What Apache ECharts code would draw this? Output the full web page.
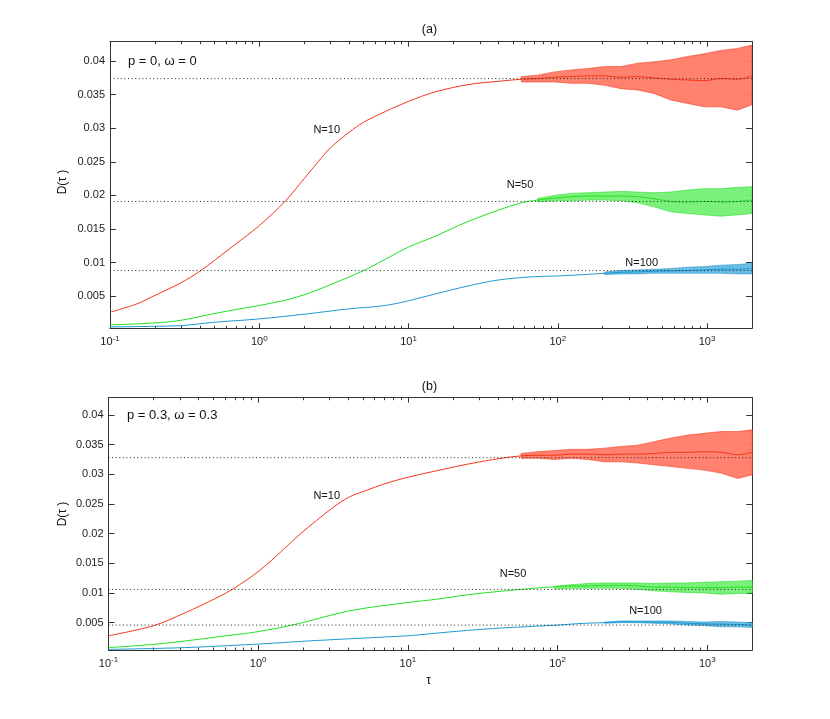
<!DOCTYPE html>
<html><head><meta charset="utf-8">
<script src="https://cdn.jsdelivr.net/npm/echarts@6/dist/echarts.min.js"></script>
<style>html,body{margin:0;padding:0;background:#fff}#c{width:830px;height:719px}</style>
</head><body><div id="c"></div>
<script>
// ---- axis ticks ----
const tauTicks = [0.1, 1, 10, 100, 1000];
const tauMinor = [0.2,0.3,0.4,0.5,0.6,0.7,0.8,0.9, 2,3,4,5,6,7,8,9, 20,30,40,50,60,70,80,90, 200,300,400,500,600,700,800,900];
const yTicks = [0.005, 0.01, 0.015, 0.02, 0.025, 0.03, 0.035, 0.04];

// ---- panel (a): p = 0, omega = 0 ----
const a_N10_tau = [0.1,0.15,0.2,0.3,0.4,0.5,0.7,1,1.5,2,2.5,3,4,5,7,10,15,25,40,57,73,95,123,159,206,266,343,441,571,740,955,1235,1597,2000];
const a_N10_D   = [0.0026,0.0038,0.0051,0.0070,0.0087,0.0103,0.0128,0.0155,0.0192,0.0225,0.0251,0.0271,0.0294,0.0309,0.0325,0.0340,0.0354,0.0365,0.0370,0.0373,0.0374,0.0376,0.0377,0.0378,0.0378,0.0376,0.0377,0.0375,0.0373,0.0372,0.0371,0.0374,0.0373,0.0378];
const a_N10_bandTau = [57,73,95,123,159,206,266,343,441,571,740,955,1235,1597,2000];
const a_N10_hi = [0.0377,0.0379,0.0384,0.0387,0.0389,0.0392,0.0392,0.0397,0.0399,0.0402,0.0407,0.0411,0.0416,0.0419,0.0424];
const a_N10_lo = [0.0369,0.0369,0.0369,0.0367,0.0367,0.0364,0.0359,0.0357,0.0352,0.0342,0.0337,0.0332,0.0332,0.0327,0.0335];

const a_N50_tau = [0.1,0.2,0.3,0.5,0.7,1,1.5,2,3,5,7,10,15,25,40,57,73,95,123,159,206,266,343,441,571,740,955,1235,1597,2000];
const a_N50_D   = [0.0007,0.0010,0.0014,0.0024,0.0030,0.0036,0.0044,0.0052,0.0067,0.0088,0.0105,0.0123,0.0139,0.0161,0.0178,0.0189,0.0193,0.0196,0.0198,0.0199,0.0199,0.0199,0.0198,0.0195,0.0191,0.0190,0.0191,0.0190,0.0191,0.0193];
const a_N50_bandTau = [73,95,123,159,206,266,343,441,571,740,955,1235,1597,2000];
const a_N50_hi = [0.01955,0.0200,0.0203,0.0204,0.0205,0.0206,0.0205,0.0204,0.0205,0.0208,0.0210,0.0210,0.0212,0.0213];
const a_N50_lo = [0.01905,0.0192,0.0192,0.0193,0.0193,0.0192,0.0189,0.0183,0.01756,0.0173,0.0171,0.0169,0.0171,0.0173];

const a_N100_tau = [0.1,0.2,0.3,0.5,1,2,4,7,10,15,25,40,70,100,150,206,266,343,441,571,740,955,1235,1597,2000];
const a_N100_D   = [0.0004,0.0005,0.0006,0.0011,0.0016,0.0023,0.0031,0.0036,0.0043,0.0053,0.0065,0.0074,0.0079,0.0080,0.0082,0.0084,0.00855,0.0086,0.0087,0.00875,0.0088,0.0089,0.0090,0.0090,0.0091];
const a_N100_bandTau = [206,266,343,441,571,740,955,1235,1597,2000];
const a_N100_hi = [0.0086,0.0088,0.0089,0.0090,0.0091,0.0093,0.0094,0.0096,0.0097,0.0099];
const a_N100_lo = [0.0082,0.0083,0.0083,0.0084,0.0084,0.0084,0.0084,0.0084,0.0083,0.0083];

const a_ref = [0.0374, 0.0191, 0.0088];

// ---- panel (b): p = 0.3, omega = 0.3 ----
const b_N10_tau = [0.1,0.2,0.32,0.53,0.68,1,1.47,1.9,2.45,3.16,4.08,5.3,6.8,10,15,25,42,57,73,95,123,159,206,266,343,441,571,740,955,1235,1597,2000];
const b_N10_D   = [0.0028,0.0045,0.0066,0.0092,0.0107,0.0136,0.0173,0.0199,0.0222,0.0244,0.0262,0.0273,0.0283,0.0295,0.0305,0.0317,0.0327,0.0331,0.0332,0.0332,0.0334,0.0334,0.0333,0.0334,0.0334,0.0335,0.0337,0.0337,0.0338,0.0337,0.0333,0.0337];
const b_N10_bandTau = [57,73,95,123,159,206,266,343,441,571,740,955,1235,1597,2000];
const b_N10_hi = [0.0335,0.0338,0.0340,0.0342,0.0342,0.0344,0.0347,0.0349,0.0355,0.0361,0.0366,0.0369,0.0372,0.0372,0.0375];
const b_N10_lo = [0.0327,0.0327,0.0325,0.0327,0.0325,0.0321,0.0321,0.0319,0.0316,0.0313,0.0310,0.0307,0.0302,0.0293,0.0299];

const b_N50_tau = [0.1,0.19,0.32,0.53,1,1.9,4.08,10,15,25,42,70,100,123,159,206,266,343,441,571,740,955,1235,1597,2000];
const b_N50_D   = [0.0008,0.0013,0.0019,0.0026,0.0035,0.0049,0.0070,0.0084,0.0089,0.0097,0.0103,0.0108,0.0111,0.0112,0.0112,0.0113,0.0113,0.0112,0.0110,0.0110,0.0109,0.0109,0.0109,0.0110,0.0110];
const b_N50_bandTau = [95,123,159,206,266,343,441,571,740,955,1235,1597,2000];
const b_N50_hi = [0.0111,0.0114,0.0116,0.0117,0.0117,0.0117,0.0116,0.0117,0.0117,0.0118,0.0119,0.0120,0.0121];
const b_N50_lo = [0.0107,0.0108,0.0108,0.0108,0.0108,0.0106,0.0104,0.0102,0.0101,0.0100,0.0098,0.0099,0.0100];

const b_N100_tau = [0.1,0.32,1,2.45,10,15,25,42,70,100,150,206,266,343,441,571,740,955,1235,1597,2000];
const b_N100_D   = [0.0005,0.0008,0.0014,0.0020,0.0028,0.0032,0.0037,0.0041,0.0044,0.0046,0.0049,0.0050,0.00515,0.0051,0.0051,0.00505,0.0049,0.0048,0.00475,0.0047,0.0046];
const b_N100_bandTau = [206,266,343,441,571,740,955,1235,1597,2000];
const b_N100_hi = [0.0051,0.0053,0.0053,0.0053,0.0053,0.0052,0.0051,0.0052,0.0051,0.0050];
const b_N100_lo = [0.0049,0.0050,0.0050,0.0049,0.0048,0.0046,0.0045,0.0043,0.0043,0.0042];

const b_ref = [0.0328, 0.0106, 0.0046];

const tauRange = [0.1, 2000];

// ---- styling ----
const FONT = 'Liberation Sans, Arial, Helvetica, sans-serif';
const AX = '#333';
const COL = {
  red:   {line:'#f4371d', fill:'#ff7a66'},
  green: {line:'#22e022', fill:'#74f074'},
  blue:  {line:'#1c98d4', fill:'#63b9e3'}
};

function xAxes(g) {
  const base = {type:'log', logBase:10, min:tauRange[0], max:tauRange[1], gridIndex:g, splitLine:{show:false}};
  const line = {show:true, onZero:false, lineStyle:{color:AX, width:1}};
  return [
    Object.assign({}, base, {position:'bottom', axisLine:line,
      axisTick:{show:true, inside:true, length:5, customValues:tauTicks, lineStyle:{color:AX}},
      axisLabel:{show:true, customValues:tauTicks, margin:6,
        formatter: v => '{b|10}{s|' + Math.round(Math.log10(v)) + '}',
        rich:{b:{fontSize:11, fontFamily:FONT, color:'#222', lineHeight:16},
              s:{fontSize:8, fontFamily:FONT, color:'#222', lineHeight:9, verticalAlign:'top'}}}}),
    Object.assign({}, base, {position:'top', axisLine:line,
      axisTick:{show:true, inside:true, length:5, customValues:tauTicks, lineStyle:{color:AX}},
      axisLabel:{show:false}}),
    // requested 'top' -> flips to free bottom side
    Object.assign({}, base, {position:'top', axisLine:{show:false},
      axisTick:{show:true, inside:true, length:2.5, customValues:tauMinor, lineStyle:{color:AX}},
      axisLabel:{show:false}}),
    // requested 'bottom' -> flips to top side
    Object.assign({}, base, {position:'bottom', axisLine:{show:false},
      axisTick:{show:true, inside:true, length:2.5, customValues:tauMinor, lineStyle:{color:AX}},
      axisLabel:{show:false}})
  ];
}
function yAxes(g, min, max) {
  const line = {show:true, onZero:false, lineStyle:{color:AX, width:1}};
  return [
    {type:'value', gridIndex:g, min, max, position:'left', axisLine:line, splitLine:{show:false},
     axisTick:{show:true, inside:true, length:6, customValues:yTicks, lineStyle:{color:AX}},
     axisLabel:{customValues:yTicks, margin:5, fontSize:11, fontFamily:FONT, color:'#222',
       formatter: v => String(Number(v.toPrecision(4)))}},
    {type:'value', gridIndex:g, min, max, position:'right', axisLine:line, splitLine:{show:false},
     axisTick:{show:true, inside:true, length:6, customValues:yTicks, lineStyle:{color:AX}},
     axisLabel:{show:false}}
  ];
}

function curve(tau, D, xi, yi, c) {
  return {type:'line', xAxisIndex:xi, yAxisIndex:yi, data: tau.map((t,i)=>[t, D[i]]),
    symbol:'none', smooth:0.35,
    lineStyle:{color:c.line, width:1}, z:4, silent:true};
}
// noisy band drawn as one polygon between lower and upper envelopes
function band(tau, lo, hi, xi, yi, c) {
  return {type:'custom', xAxisIndex:xi, yAxisIndex:yi, clip:true, silent:true, z:3,
    data: tau.map((t,i)=>[t, lo[i], hi[i]]),
    encode:{x:0, y:[1,2]},
    renderItem: function(params, api) {
      if (params.dataIndex !== 0) return null;
      const pts = [];
      for (let i = 0; i < tau.length; i++) pts.push(api.coord([tau[i], hi[i]]));
      for (let i = tau.length - 1; i >= 0; i--) pts.push(api.coord([tau[i], lo[i]]));
      return {type:'polygon', shape:{points:pts},
        style:{fill:c.fill, stroke:c.line, lineWidth:0.6, opacity:0.95}};
    }};
}
function refLine(v, xi, yi) {
  return {type:'line', xAxisIndex:xi, yAxisIndex:yi, data:[[tauRange[0], v],[tauRange[1], v]],
    symbol:'none', lineStyle:{color:'#222', width:1, type:[1,2.6]}, z:5, silent:true};
}

const series = [
  band(a_N10_bandTau, a_N10_lo, a_N10_hi, 0, 0, COL.red),
  band(a_N50_bandTau, a_N50_lo, a_N50_hi, 0, 0, COL.green),
  band(a_N100_bandTau, a_N100_lo, a_N100_hi, 0, 0, COL.blue),
  curve(a_N10_tau, a_N10_D, 0, 0, COL.red),
  curve(a_N50_tau, a_N50_D, 0, 0, COL.green),
  curve(a_N100_tau, a_N100_D, 0, 0, COL.blue),
  ...a_ref.map(v => refLine(v, 0, 0)),
  band(b_N10_bandTau, b_N10_lo, b_N10_hi, 4, 2, COL.red),
  band(b_N50_bandTau, b_N50_lo, b_N50_hi, 4, 2, COL.green),
  band(b_N100_bandTau, b_N100_lo, b_N100_hi, 4, 2, COL.blue),
  curve(b_N10_tau, b_N10_D, 4, 2, COL.red),
  curve(b_N50_tau, b_N50_D, 4, 2, COL.green),
  curve(b_N100_tau, b_N100_D, 4, 2, COL.blue),
  ...b_ref.map(v => refLine(v, 4, 2))
];

function txt(text, x, y, size, opts) {
  return Object.assign({type:'text', x, y, z:100, silent:true,
    style:{text, fill:'#111', font: size + 'px ' + FONT, textAlign:'center', textVerticalAlign:'middle', align:'center', verticalAlign:'middle'}}, opts || {});
}
function txtL(text, x, y, size) {
  return {type:'text', x, y, z:100, silent:true,
    style:{text, fill:'#111', font: size + 'px ' + FONT, textAlign:'left', textVerticalAlign:'middle', align:'left', verticalAlign:'middle'}};
}

const chart = echarts.init(document.getElementById('c'), null, {renderer:'canvas'});
chart.setOption({
  animation:false,
  backgroundColor:'#fff',
  grid:[
    {left:110, top:41.7, width:642, height:286.6, outerBoundsMode:'none'},
    {left:108.5, top:397.7, width:643.8, height:252.3, outerBoundsMode:'none'}
  ],
  xAxis:[...xAxes(0), ...xAxes(1)],
  yAxis:[...yAxes(0, 0.0002, 0.0429), ...yAxes(1, 0.0004, 0.0429)],
  series,
  graphic:[
    txt('(a)', 429.5, 30, 12.5),
    txt('(b)', 429.5, 386.7, 12.5),
    txtL('p = 0, ω = 0', 128, 61, 13),
    txtL('p = 0.3, ω = 0.3', 127, 415, 13),
    txt('N=10', 326.7, 130, 11),
    txt('N=50', 520, 184.5, 11),
    txt('N=100', 641.7, 262.5, 11),
    txt('N=10', 326.7, 495.5, 11),
    txt('N=50', 513, 573.5, 11),
    txt('N=100', 645.5, 610.5, 11),
    txt('D(τ )', 63, 182, 12, {rotation: Math.PI/2}),
    txt('D(τ )', 62.5, 514, 12, {rotation: Math.PI/2}),
    txt('τ', 428.5, 681, 12)
  ]
});
</script>
</body></html>
